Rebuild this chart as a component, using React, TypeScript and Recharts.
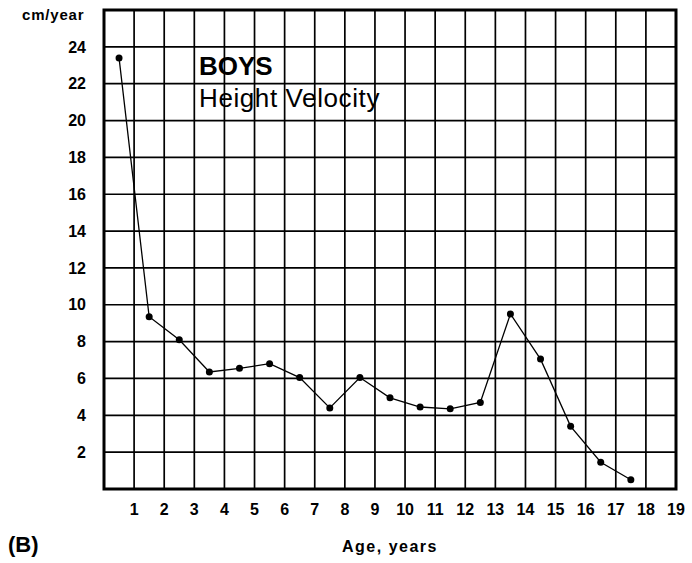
import {
  ComposedChart,
  Line,
  XAxis,
  YAxis,
  CartesianGrid,
  ReferenceArea,
} from 'recharts';

// Age in years (mid-year points) and height velocity in cm/year
const AGES = [0.5, 1.5, 2.5, 3.5, 4.5, 5.5, 6.5, 7.5, 8.5, 9.5, 10.5, 11.5, 12.5, 13.5, 14.5, 15.5, 16.5, 17.5];
const VELOCITY = [23.4, 9.35, 8.1, 6.35, 6.55, 6.8, 6.05, 4.4, 6.05, 4.95, 4.45, 4.35, 4.7, 9.5, 7.05, 3.4, 1.45, 0.5];

const X_TICKS = [1, 2, 3, 4, 5, 6, 7, 8, 9, 10, 11, 12, 13, 14, 15, 16, 17, 18, 19];
const Y_TICKS = [2, 4, 6, 8, 10, 12, 14, 16, 18, 20, 22, 24];

const FONT = '"Liberation Sans", Arial, Helvetica, sans-serif';

const data = AGES.map((age, i) => ({ age, velocity: VELOCITY[i] }));

export default function App() {
  const tickStyle = { fontSize: 16, fontWeight: 700, fill: '#000', fontFamily: FONT };

  return (
    <div style={{ position: 'absolute', left: 0, top: 0, width: 692, height: 563, background: '#fff', fontFamily: FONT }}>
      <ComposedChart
        width={692}
        height={563}
        data={data}
        margin={{ top: 10, right: 16, left: 0, bottom: 30 }}
      >
        <CartesianGrid stroke="#000" strokeWidth={1.7} />
        <XAxis
          type="number"
          dataKey="age"
          domain={[0, 19]}
          ticks={X_TICKS}
          interval={0}
          height={44}
          axisLine={false}
          tickLine={false}
          tickSize={0}
          tickMargin={15}
          tick={tickStyle}
          label={{
            value: 'Age, years',
            position: 'bottom',
            offset: 8,
            style: { fontSize: 16, fontWeight: 700, fill: '#000', fontFamily: FONT, letterSpacing: 1.5 },
          }}
        />
        <YAxis
          type="number"
          domain={[0, 26]}
          ticks={Y_TICKS}
          interval={0}
          width={104}
          axisLine={false}
          tickLine={false}
          tickSize={0}
          tickMargin={18}
          tick={tickStyle}
        />
        <ReferenceArea x1={0} x2={19} y1={0} y2={26} fill="none" stroke="#000" strokeWidth={3} />
        <Line
          type="linear"
          dataKey="velocity"
          stroke="#000"
          strokeWidth={1.3}
          dot={{ r: 3.5, fill: '#000', stroke: '#000', strokeWidth: 0 }}
          isAnimationActive={false}
        />
      </ComposedChart>

      <div style={{ position: 'absolute', left: 22, top: 6, fontSize: 15, fontWeight: 700, letterSpacing: 0.8 }}>
        cm/year
      </div>
      <div style={{ position: 'absolute', left: 199, top: 51, fontSize: 26, fontWeight: 700, lineHeight: '30px' }}>
        BOYS
      </div>
      <div style={{ position: 'absolute', left: 199, top: 83, fontSize: 26, lineHeight: '30px', letterSpacing: 0.6 }}>
        Height Velocity
      </div>
      <div style={{ position: 'absolute', left: 8, top: 531, fontSize: 22, fontWeight: 700, lineHeight: '28px' }}>
        (B)
      </div>
    </div>
  );
}
